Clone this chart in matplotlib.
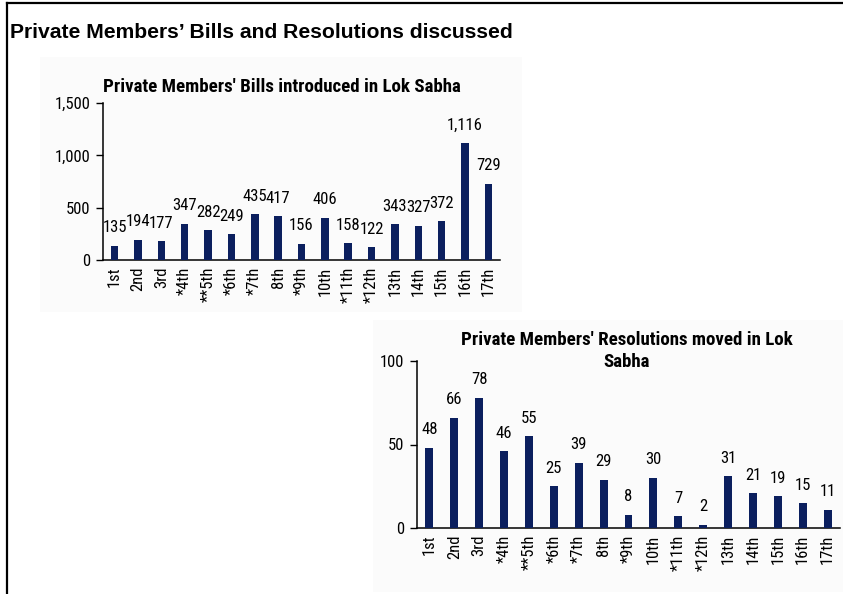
import matplotlib
matplotlib.use("Agg")
import matplotlib.pyplot as plt
from matplotlib.patches import Rectangle
from matplotlib.lines import Line2D

sessions = ["1st", "2nd", "3rd", "*4th", "**5th", "*6th", "*7th", "8th", "*9th",
            "10th", "*11th", "*12th", "13th", "14th", "15th", "16th", "17th"]
bills = [135, 194, 177, 347, 282, 249, 435, 417, 156, 406, 158, 122, 343, 327, 372, 1116, 729]
resolutions = [48, 66, 78, 46, 55, 25, 39, 29, 8, 30, 7, 2, 31, 21, 19, 15, 11]

plt.rcParams["font.family"] = ["Roboto Condensed", "DejaVu Sans"]

W, H = 843, 594
fig = plt.figure(figsize=(W / 100, H / 100), dpi=100)
BAR = "#0b1f5e"

def fx(px):
    return px / W

def fy(py):
    return 1 - py / H

# frame lines
fig.add_artist(Line2D([fx(7), fx(7)], [0, fy(3)], transform=fig.transFigure, color="black", lw=1.6))
fig.add_artist(Line2D([fx(7), 1], [fy(3), fy(3)], transform=fig.transFigure, color="black", lw=1.6))

# faint background panels
fig.add_artist(Rectangle((fx(40), fy(312)), fx(522 - 40), (312 - 57) / H,
                         transform=fig.transFigure, facecolor="#fbfbfb", edgecolor="none", zorder=0))
fig.add_artist(Rectangle((fx(373), fy(592)), fx(843 - 373), (592 - 320) / H,
                         transform=fig.transFigure, facecolor="#fbfbfb", edgecolor="none", zorder=0))

fig.text(fx(10), fy(32), "Private Members\u2019 Bills and Resolutions discussed",
         fontsize=15.2, fontweight="bold", family=["Liberation Sans", "DejaVu Sans"],
         ha="left", va="center")

def draw(ax, vals, ymax, step, fmt):
    x = list(range(len(vals)))
    ax.bar(x, vals, width=0.32, color=BAR, zorder=3)
    ax.set_xlim(-0.5, len(vals) - 0.5)
    ax.set_ylim(0, ymax)
    ax.set_yticks(range(0, ymax + 1, step))
    ax.set_yticklabels([fmt(v) for v in range(0, ymax + 1, step)], fontsize=12)
    ax.set_xticks(x)
    ax.set_xticklabels(sessions, rotation=90, fontsize=12)
    ax.tick_params(axis="x", length=0, pad=5)
    ax.tick_params(axis="y", length=5, width=1, direction="out", pad=4)
    for s in ("top", "right"):
        ax.spines[s].set_visible(False)
    for s in ("left", "bottom"):
        ax.spines[s].set_linewidth(1.1)
    ax.patch.set_alpha(0)
    for xi, v in zip(x, vals):
        ax.annotate(fmt(v), (xi, v), xytext=(0, 7.5), textcoords="offset points",
                    ha="center", va="bottom", fontsize=12)

ax1 = fig.add_axes([fx(103), fy(260), fx(500 - 103), (260 - 103) / H])
draw(ax1, bills, 1500, 500, lambda v: f"{v:,}")
fig.text(fx(282), fy(87), "Private Members' Bills introduced in Lok Sabha",
         fontsize=13.6, fontweight="bold", ha="center", va="center")

ax2 = fig.add_axes([fx(417), fy(528), fx(840 - 417), (528 - 361) / H])
draw(ax2, resolutions, 100, 50, lambda v: f"{v}")
fig.text(fx(627), fy(351), "Private Members' Resolutions moved in Lok\nSabha",
         fontsize=13.6, fontweight="bold", ha="center", va="center", linespacing=1.35)

fig.savefig("out.png", dpi=100)
